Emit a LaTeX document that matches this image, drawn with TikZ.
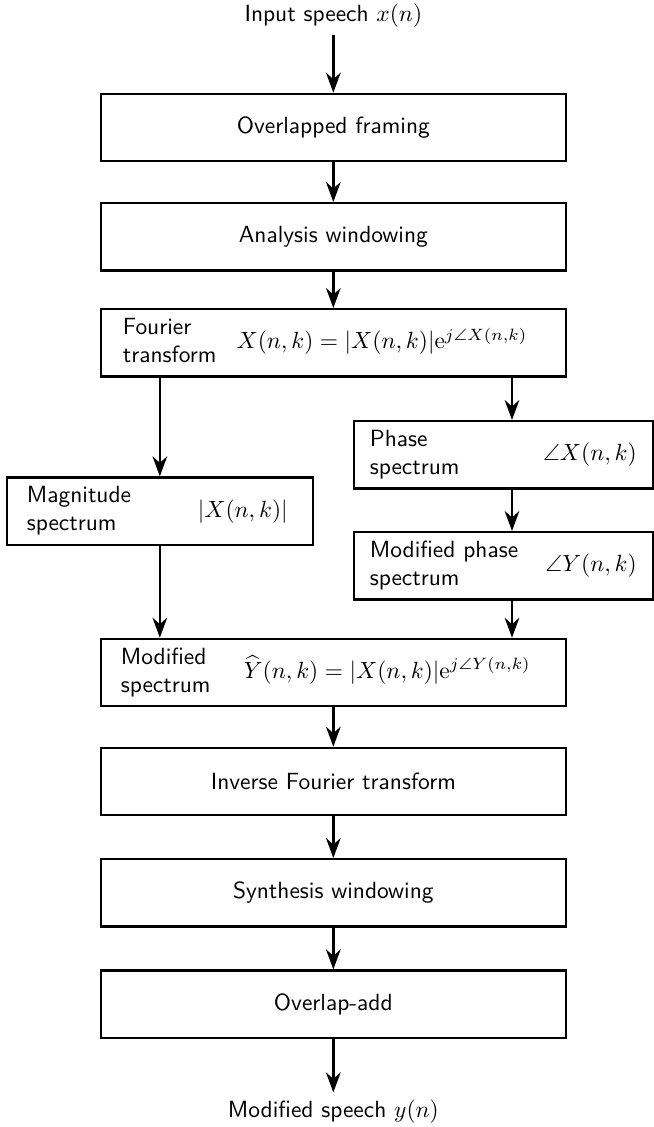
\documentclass[tikz,border=0pt]{standalone}
\usepackage{amsmath,amssymb}
\usepackage{tikz}
\usetikzlibrary{arrows.meta,positioning}

\newcommand{\twoline}[2]{\begin{tabular}[c]{@{}l@{}}#1\\#2\end{tabular}}

\begin{document}
\begin{tikzpicture}[
    block/.style={rectangle, draw, line width=1pt, minimum width=6.975cm, minimum height=1.01cm, align=center, font=\sffamily},
    splitblock/.style={block, align=left, inner ysep=1pt, inner xsep=0.3cm, text width=6.375cm},
    sideblock/.style={splitblock, minimum width=4.59cm, text width=3.99cm},
    label/.style={font=\sffamily, inner sep=3pt},
    arrow/.style={-{Stealth[length=3mm, width=2.2mm]}, line width=1pt},
]
\useasboundingbox (0,0) rectangle (9.81,-16.905);

% === ANALYSIS ===
\node[block] (framing) at (5.0,-1.9125) {Overlapped framing};
\node[label, above=0.86cm of framing] (input) {Input speech $x(n)$};
\node[block, below=0.595cm of framing] (analysis) {Analysis windowing};
\node[splitblock, below=0.545cm of analysis, inner xsep=0.33cm, text width=6.315cm] (fourier)
    {\twoline{Fourier}{transform}\hspace{0.3cm}$X(n,k) = |X(n,k)|\mathrm{e}^{j\angle X(n,k)}$};

% === MAGNITUDE / PHASE ===
\node[sideblock, below left=1.48cm and 1.41cm of fourier.south west, anchor=north west] (mag)
    {\twoline{Magnitude}{spectrum}\hspace{1cm}$|X(n,k)|$};
\node[sideblock, below right=0.635cm and 1.305cm of fourier.south east, anchor=north east, minimum width=4.485cm, inner xsep=0.24cm, text width=4.005cm] (phase)
    {\twoline{Phase}{spectrum}\hfill$\angle X(n,k)$};
\node[sideblock, below=0.62cm of phase, minimum width=4.485cm, inner xsep=0.24cm, text width=4.005cm] (modphase)
    {\twoline{Modified phase}{spectrum}\hfill$\angle Y(n,k)$};

% === SYNTHESIS ===
\node[splitblock, below=3.9cm of fourier] (modspec)
    {\twoline{Modified}{spectrum}\hspace{0.5cm}$\widehat{Y}(n,k) = |X(n,k)|\mathrm{e}^{j\angle Y(n,k)}$};
\node[block, below=0.59cm of modspec] (inverse) {Inverse Fourier transform};
\node[block, below=0.625cm of inverse] (synthesis) {Synthesis windowing};
\node[block, below=0.625cm of synthesis] (overlap) {Overlap-add};
\node[label, below=0.8cm of overlap] (output) {Modified speech $y(n)$};

% === ARROWS ===
\draw[arrow] (input) -- (framing);
\draw[arrow] (framing) -- (analysis);
\draw[arrow] (analysis) -- (fourier);

\draw[arrow] (fourier.south -| mag) -- (mag);
\draw[arrow] ([xshift=0.13cm]phase.north |- fourier.south) -- ([xshift=0.13cm]phase.north);
\draw[arrow] ([xshift=0.13cm]phase.south) -- ([xshift=0.13cm]modphase.north);

\draw[arrow] (mag) -- (mag |- modspec.north);
\draw[arrow] ([xshift=0.13cm]modphase.south) -- ([xshift=0.13cm]modphase.south |- modspec.north);

\draw[arrow] (modspec) -- (inverse);
\draw[arrow] (inverse) -- (synthesis);
\draw[arrow] (synthesis) -- (overlap);
\draw[arrow] (overlap) -- (output);

\end{tikzpicture}
\end{document}
